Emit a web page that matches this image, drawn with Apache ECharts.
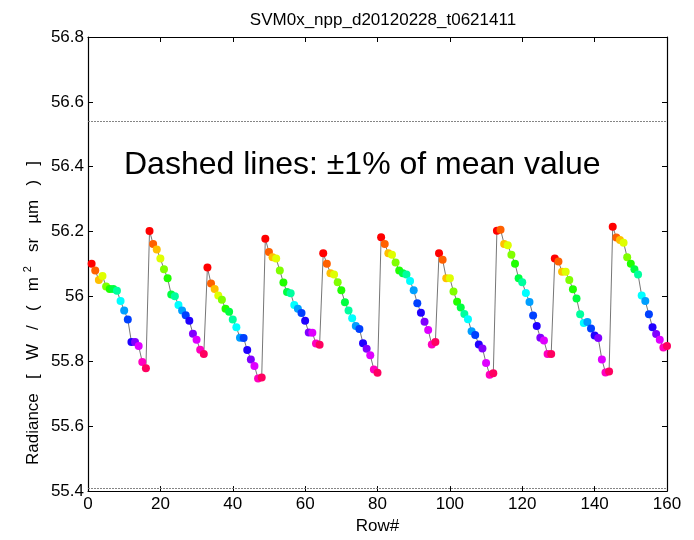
<!DOCTYPE html>
<html>
<head>
<meta charset="utf-8">
<script src="https://cdn.jsdelivr.net/npm/echarts@6/dist/echarts.min.js"></script>
<style>html,body{margin:0;padding:0;background:#fff}#c{width:694px;height:540px}</style>
</head>
<body>
<div id="c"></div>
<script>
// Radiance per row, grouped by 16-row scan cycles (rows 1..160)
var cycle1 = [56.101,56.080,56.051,56.063,56.031,56.023,56.023,56.018,55.986,55.957,55.929,55.860,55.860,55.847,55.798,55.779];
var cycle2 = [56.202,56.162,56.145,56.117,56.084,56.056,56.006,56.001,55.974,55.957,55.942,55.925,55.885,55.867,55.836,55.823];
var cycle3 = [56.089,56.040,56.023,56.003,55.990,55.962,55.953,55.929,55.905,55.873,55.872,55.835,55.806,55.786,55.747,55.750];
var cycle4 = [56.178,56.137,56.121,56.117,56.080,56.043,56.014,56.010,55.974,55.962,55.949,55.925,55.889,55.888,55.855,55.851];
var cycle5 = [56.133,56.101,56.072,56.068,56.044,56.019,55.982,55.957,55.933,55.909,55.900,55.856,55.839,55.819,55.775,55.765];
var cycle6 = [56.183,56.162,56.133,56.129,56.105,56.080,56.072,56.068,56.048,56.019,55.979,55.950,55.922,55.897,55.852,55.860];
var cycle7 = [56.133,56.113,56.056,56.056,56.015,55.984,55.966,55.946,55.930,55.893,55.881,55.852,55.840,55.795,55.759,55.763];
var cycle8 = [56.203,56.206,56.162,56.158,56.129,56.101,56.056,56.044,56.011,55.983,55.941,55.909,55.873,55.864,55.823,55.823];
var cycle9 = [56.117,56.108,56.076,56.076,56.051,56.022,55.994,55.945,55.918,55.921,55.901,55.880,55.872,55.806,55.766,55.769];
var cycle10 = [56.215,56.182,56.174,56.166,56.121,56.101,56.084,56.068,56.003,55.986,55.945,55.905,55.884,55.867,55.843,55.847];
var dashedLevels = [56.54, 55.41]; // mean value +/- 1%
var xTicks = [0,20,40,60,80,100,120,140,160];
var yTicks = [55.4,55.6,55.8,56.0,56.2,56.4,56.6,56.8];

var cycles = [cycle1,cycle2,cycle3,cycle4,cycle5,cycle6,cycle7,cycle8,cycle9,cycle10];
var hsv16 = ['#FF0000','#FF6000','#FFBF00','#DFFF00','#80FF00','#20FF00','#00FF40','#00FF9F',
             '#00FFFF','#009FFF','#0040FF','#2000FF','#8000FF','#DF00FF','#FF00BF','#FF0060'];
var points = [];
var row = 1;
cycles.forEach(function(c){ c.forEach(function(v, i){
  points.push({value:[row, v], itemStyle:{color:hsv16[i]}});
  row++;
});});

var font = 'Liberation Sans, Arial, sans-serif';
var chart = echarts.init(document.getElementById('c'), null, {renderer:'canvas'});
var axisCommon = {
  axisLine:{show:true, onZero:false, lineStyle:{color:'#000', width:1.2}},
  axisTick:{show:true, inside:true, length:5, lineStyle:{color:'#000'}},
  splitLine:{show:false}
};
chart.setOption({
  animation:false,
  backgroundColor:'#fff',
  title:{text:'SVM0x_npp_d20120228_t0621411', left:378, textAlign:'center', top:7,
    textStyle:{fontFamily:font, fontSize:17, fontWeight:'normal', color:'#000'}},
  grid:{left:88, right:27, top:37, bottom:48},
  graphic:[
    {type:'text', left:124, top:149,
      style:{text:'Dashed lines: \u00b11% of mean value', font:'32px ' + font, fill:'#000'}},
    {type:'text', x:33, y:313, rotation:Math.PI/2,
      style:{text:'Radiance   [   W   /   (   m {sup|2}   sr   \u00b5m   )   ]',
        font:'17px ' + font, fill:'#000', align:'center', verticalAlign:'middle',
        rich:{sup:{font:'11px ' + font, fill:'#000', padding:[0,0,10,0]}}}}
  ],
  xAxis:[
    Object.assign({type:'value', min:xTicks[0], max:xTicks[xTicks.length-1], interval:20, position:'bottom',
      name:'Row#', nameLocation:'middle', nameGap:26,
      nameTextStyle:{fontFamily:font, fontSize:17, color:'#000'},
      axisLabel:{fontFamily:font, fontSize:17, color:'#000', margin:5}}, axisCommon),
    Object.assign({type:'value', min:xTicks[0], max:xTicks[xTicks.length-1], interval:20, position:'top',
      axisLabel:{show:false}}, axisCommon)
  ],
  yAxis:[
    Object.assign({type:'value', min:yTicks[0], max:yTicks[yTicks.length-1], interval:0.2, position:'left',
      axisLabel:{fontFamily:font, fontSize:17, color:'#000', margin:4,
        formatter:function(v){ return (Math.round(v*10)/10).toString(); }}}, axisCommon),
    Object.assign({type:'value', min:yTicks[0], max:yTicks[yTicks.length-1], interval:0.2, position:'right',
      axisLabel:{show:false}}, axisCommon)
  ],
  series:[{
    type:'line', xAxisIndex:0, yAxisIndex:0, data:points,
    symbol:'circle', symbolSize:8, showSymbol:true, clip:false,
    lineStyle:{color:'#666', width:0.9},
    markLine:{silent:true, symbol:'none', label:{show:false},
      lineStyle:{color:'#777', type:[2,1], width:0.9},
      data:dashedLevels.map(function(v){ return {yAxis:v}; })}
  }]
});
</script>
</body>
</html>
